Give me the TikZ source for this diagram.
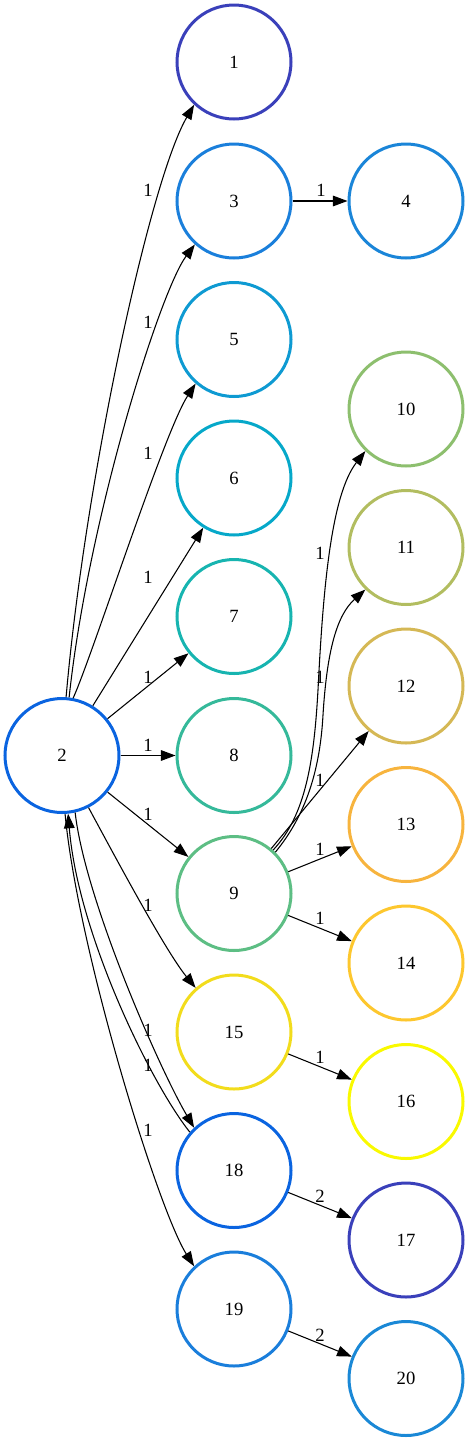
\documentclass[tikz,border=0pt]{standalone}
\usepackage{fontspec}
\setmainfont{Liberation Serif}
\usetikzlibrary{arrows.meta}
\definecolor{c1}{HTML}{3A40BA}
\definecolor{c2}{HTML}{0A64E0}
\definecolor{c3}{HTML}{1A7FDB}
\definecolor{c4}{HTML}{1A85D8}
\definecolor{c5}{HTML}{0E9AD2}
\definecolor{c6}{HTML}{06A8C9}
\definecolor{c7}{HTML}{17B4B0}
\definecolor{c8}{HTML}{35B99A}
\definecolor{c9}{HTML}{5DBE84}
\definecolor{c10}{HTML}{8DBF6E}
\definecolor{c11}{HTML}{B2BD60}
\definecolor{c12}{HTML}{D5B855}
\definecolor{c13}{HTML}{F7B43E}
\definecolor{c14}{HTML}{FDC72E}
\definecolor{c15}{HTML}{F2DC1C}
\definecolor{c16}{HTML}{F9F900}
\definecolor{c17}{HTML}{3A40BA}
\definecolor{c18}{HTML}{0A64E0}
\definecolor{c19}{HTML}{1A7EDB}
\definecolor{c20}{HTML}{1A88D6}
\begin{document}
\begin{tikzpicture}[x=0.75pt,y=-0.75pt,
  vtx/.style={circle,draw=#1,line width=2.25pt,minimum size=85.5pt,inner sep=0pt,
    font=\fontsize{14}{16}\selectfont},
  edge/.style={-{Triangle[length=11pt,width=8pt]},line width=0.8pt,black},
  lbl/.style={inner sep=0pt,font=\fontsize{14}{16}\selectfont}]
\useasboundingbox (0,0) rectangle (469,1443);
% nodes
\node[vtx=c2]  (n2)  at (62,755.5) {2};
\node[vtx=c1]  (n1)  at (234,62)   {1};
\node[vtx=c3]  (n3)  at (234,201)  {3};
\node[vtx=c5]  (n5)  at (234,339.5){5};
\node[vtx=c6]  (n6)  at (234,478)  {6};
\node[vtx=c7]  (n7)  at (234,616.5){7};
\node[vtx=c8]  (n8)  at (234,755.5){8};
\node[vtx=c9]  (n9)  at (234,893.5){9};
\node[vtx=c15] (n15) at (234,1032) {15};
\node[vtx=c18] (n18) at (234,1170.5){18};
\node[vtx=c19] (n19) at (234,1309) {19};
\node[vtx=c4]  (n4)  at (406,201)  {4};
\node[vtx=c10] (n10) at (406,409)  {10};
\node[vtx=c11] (n11) at (406,547.5){11};
\node[vtx=c12] (n12) at (406,686)  {12};
\node[vtx=c13] (n13) at (406,824.5){13};
\node[vtx=c14] (n14) at (406,963)  {14};
\node[vtx=c16] (n16) at (406,1101.5){16};
\node[vtx=c17] (n17) at (406,1240) {17};
\node[vtx=c20] (n20) at (406,1378.5){20};
% edges from 2
\draw[edge] (n2.86) .. controls (85,480) and (150,180) .. (n1.-133);
\draw[edge] (n2.83) .. controls (88,520) and (160,291) .. (n3.-132);
\draw[edge] (n2.79) .. controls (93,654) and (164,432) .. (n5.-131);
\draw[edge] (n2) -- (n6);
\draw[edge] (n2) -- (n7);
\draw[edge] (n2) -- (n8);
\draw[edge] (n2) -- (n9);
\draw[edge] (n2.-63) .. controls (111.5,850) and (165,950.5) .. (n15.131);
\draw[edge] (n2.-77) .. controls (85,900) and (160,1070) .. (n18.133);
\draw[edge] (n18.139) .. controls (152,1085) and (78,935) .. (n2.-84);
\draw[edge] (n2.-87) .. controls (78,950) and (158,1209.5) .. (n19.133);
% other edges
\draw[edge] (n3) -- (n4);
\draw[edge] (n9.48) .. controls (306,815) and (314,760) .. (318,690)
   .. controls (323,590) and (331,495) .. (n10.-134);
\draw[edge] (n9.45) .. controls (306,815) and (320,770) .. (323,715)
   .. controls (327,650) and (337,615) .. (n11.-134);
\draw[edge] (n9) -- (n12);
\draw[edge] (n9) -- (n13);
\draw[edge] (n9) -- (n14);
\draw[edge] (n15) -- (n16);
\draw[edge] (n18) -- (n17);
\draw[edge] (n19) -- (n20);
% labels
\node[lbl] (l1)  at (148,190)  {1};
\node[lbl] (l3)  at (148,322)  {1};
\node[lbl] (l5)  at (148,453)  {1};
\node[lbl] (l6)  at (148,577)  {1};
\node[lbl] (l7)  at (148,677)  {1};
\node[lbl] (l8)  at (148,745.5){1};
\node[lbl] (l9)  at (148,814)  {1};
\node[lbl] (l15) at (148,905)  {1};
\node[lbl] (l18) at (148,1030) {1};
\node[lbl] (l182) at (148,1065) {1};
\node[lbl] (l19) at (148,1130) {1};
\node[lbl] (l4)  at (321,190.5){1};
\node[lbl] (l10) at (320,553)  {1};
\node[lbl] (l11) at (320,677)  {1};
\node[lbl] (l12) at (320,780)  {1};
\node[lbl] (l13) at (320,849)  {1};
\node[lbl] (l14) at (320,918)  {1};
\node[lbl] (l16) at (320,1057) {1};
\node[lbl] (l17) at (320,1196) {2};
\node[lbl] (l20) at (320,1335) {2};
\end{tikzpicture}
\end{document}
